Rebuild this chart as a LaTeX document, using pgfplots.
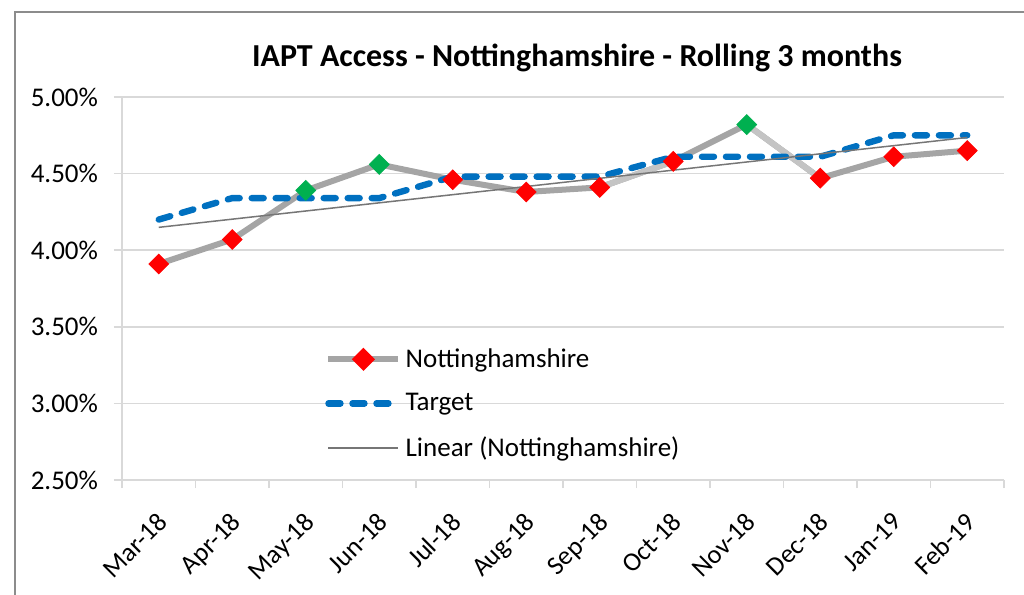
\documentclass[border=0pt]{standalone}
\usepackage{fontspec}
\setmainfont{Carlito}
\usepackage{pgfplots}
\usepackage{pgfplotstable}
\pgfplotsset{compat=1.18}

\definecolor{nottsgray}{RGB}{165,165,165}
\definecolor{nottslight}{RGB}{196,196,196}
\definecolor{mkred}{RGB}{255,0,0}
\definecolor{mkgreen}{RGB}{0,176,80}
\definecolor{tgtblue}{RGB}{0,112,192}
\definecolor{trendgray}{RGB}{118,118,118}
\definecolor{gridgray}{RGB}{217,217,217}
\definecolor{framegray}{RGB}{140,140,140}

% month index, Nottinghamshire, Target, marker class (g = above target)
\pgfplotstableread{
x  notts target cls
0  3.91  4.20   r
1  4.07  4.34   r
2  4.39  4.34   g
3  4.56  4.34   g
4  4.46  4.48   r
5  4.38  4.48   r
6  4.41  4.48   r
7  4.58  4.61   r
8  4.82  4.61   g
9  4.47  4.61   r
10 4.61  4.75   r
11 4.65  4.75   r
}\datatable

\begin{document}
\begin{tikzpicture}[x=1pt,y=1pt]
\useasboundingbox (-61,-57.5) rectangle (451,240);
\draw[framegray, line width=0.75pt] (-53.5,-70) -- (-53.5,234) -- (460,234);
\node[font=\bfseries\fontsize{16}{19}\selectfont] at (227.5,211) {IAPT Access - Nottinghamshire - Rolling 3 months};
\begin{axis}[
    at={(0,0)}, anchor=south west,
    scale only axis,
    width=441pt, height=191.5pt,
    xmin=-0.5, xmax=11.5,
    ymin=2.5, ymax=5,
    xtick={0,...,11},
    xticklabels={Mar-18,Apr-18,May-18,Jun-18,Jul-18,Aug-18,Sep-18,Oct-18,Nov-18,Dec-18,Jan-19,Feb-19},
    minor xtick={-0.5,0.5,...,11.5},
    ytick={2.5,3,...,5},
    yticklabel={\pgfmathprintnumber[fixed,fixed zerofill,precision=2]{\tick}\%},
    /pgf/number format/assume math mode=true,
    tick align=outside,
    major x tick style={draw=none},
    minor x tick style={gridgray, line width=0.75pt},
    major tick length=4pt, minor tick length=4pt,
    y tick style={gridgray, line width=0.75pt},
    ymajorgrids,
    major grid style={gridgray, line width=0.75pt},
    axis line style={gridgray, line width=0.75pt},
    axis x line*=bottom, axis y line*=left,
    tick label style={font=\fontsize{13.5}{16}\selectfont, black},
    yticklabel style={xshift=-4.5pt},
    xticklabel style={font=\fontsize{13.2}{16}\selectfont, rotate=45, anchor=north east, inner sep=1pt, xshift=-8pt, yshift=-6pt},
    clip=false,
    legend style={at={(rel axis cs:0.230,0.355)}, anchor=north west, draw=none, fill=none,
        font=\fontsize{13.5}{16}\selectfont, row sep=7.5pt, inner sep=0pt},
    legend cell align=left,
    legend image code/.code={\draw[mark repeat=2,mark phase=2,#1] plot coordinates {(0pt,0pt) (17.5pt,0pt) (35pt,0pt)};},
]
% Nottinghamshire line
\addplot[nottsgray, line width=3pt, line join=round, mark=none, forget plot] table[x=x, y=notts] \datatable;
\addplot[nottslight, line width=3pt, mark=none, forget plot] coordinates {(6,4.41) (7,4.58)};
\addplot[nottslight, line width=3pt, mark=none, forget plot] coordinates {(8,4.82) (9,4.47)};
% markers
\addplot[scatter, only marks, point meta=explicit symbolic, forget plot,
    mark=square*, mark size=3.5pt, mark options={rotate=45},
    scatter/classes={
        r={mark=square*, draw=mkred, fill=mkred},
        g={mark=square*, draw=mkgreen, fill=mkgreen}}]
    table[x=x, y=notts, meta=cls] \datatable;
% Target
\addplot[tgtblue, line width=3.2pt, line cap=round, dash pattern=on 6pt off 6pt, mark=none, forget plot] table[x=x, y=target] \datatable;
% Linear trend
\addplot[trendgray, line width=0.75pt, mark=none, forget plot] table[x=x, y={create col/linear regression={y=notts}}] \datatable;

\addlegendimage{nottsgray, line width=3pt, mark=square*, mark size=2.6pt, mark options={rotate=45, draw=mkred, fill=mkred}}
\addlegendentry{Nottinghamshire}
\addlegendimage{tgtblue, line width=3.2pt, line cap=round, dash pattern=on 6pt off 6pt}
\addlegendentry{Target}
\addlegendimage{trendgray, line width=0.75pt}
\addlegendentry{Linear (Nottinghamshire)}
\end{axis}
\end{tikzpicture}
\end{document}
